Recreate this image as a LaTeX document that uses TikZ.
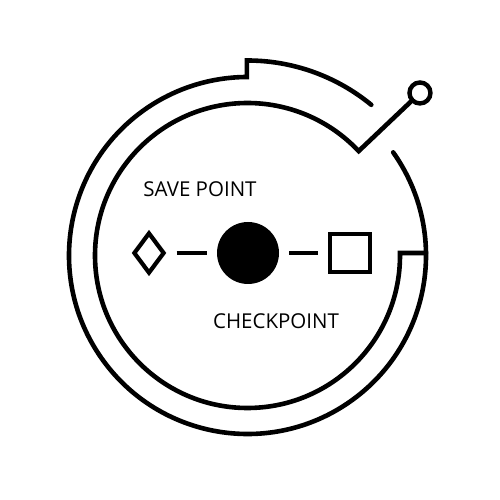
\documentclass[tikz,border=0pt]{standalone}
\usepackage{fontspec}
\setmainfont{Open Sans}
\usetikzlibrary{shapes.geometric}
\tikzset{
  ring/.style={line width=4.6pt, line cap=round, line join=miter},
  link/.style={line width=4.3pt, shorten <=10pt, shorten >=10pt},
  lbl/.style={font=\fontsize{20.5}{24}\selectfont, inner sep=0pt, anchor=base},
}
\begin{document}
\begin{tikzpicture}[x=1pt,y=1pt]
\useasboundingbox (0,0) rectangle (500,500);
\fill[white] (0,0) rectangle (500,500);
\begin{scope}[shift={(247.5,244.5)}]
  \node[circle, draw, line width=4.4pt, minimum size=21pt, inner sep=0pt] (knob) at (43.3:237) {};
  % outer ring
  \draw[ring] (35.3:178.5) arc[start angle=35.3, end angle=-269.8, radius=178.5]
        -- (90.2:195) arc[start angle=90.2, end angle=50.6, radius=195];
  % inner ring
  \draw[ring] (0.8:178.5) -- (0.94:152.5) arc[start angle=0.94, end angle=-316.8, radius=152.5] -- (knob);
\end{scope}
% centre symbols
\node[diamond, draw, line width=4.2pt, minimum width=31pt, minimum height=41pt, inner sep=0pt] (save) at (149,247) {};
\node[circle, fill=black, minimum size=62pt, inner sep=0pt] (check) at (248,247) {};
\node[rectangle, draw, line width=4.2pt, minimum width=40pt, minimum height=38pt, inner sep=0pt] (box) at (350,247) {};
\draw[link] (save) -- (check);
\draw[link] (check) -- (box);
\node[lbl] (t1) at (200,303) {SAVE POINT};
\node[lbl] (t2) at (276,171) {CHECKPOINT};
\end{tikzpicture}
\end{document}
